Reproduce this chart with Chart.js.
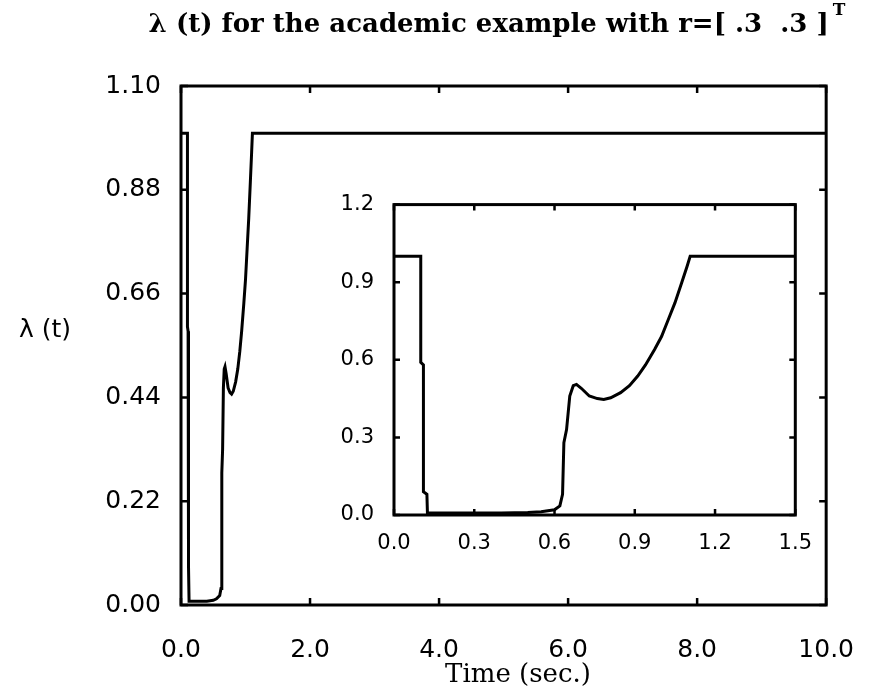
<!DOCTYPE html>
<html><head><meta charset="utf-8">
<script src="https://cdn.jsdelivr.net/npm/chart.js@4/dist/chart.umd.min.js"></script>
<style>
html,body{margin:0;padding:0;background:#fff;}
#wrap{position:relative;width:876px;height:694px;overflow:hidden;}
canvas{position:absolute;}
</style>
</head><body>
<div id="wrap">
<canvas id="main" width="876" height="694" style="left:0;top:0;width:876px;height:694px"></canvas>
<canvas id="inset" width="500" height="370" style="left:320px;top:180px;width:500px;height:370px"></canvas>
</div>
<script>
// Data
const timeSec = [0, 0.100, 0.100, 0.110, 0.110, 0.123, 0.125, 0.2, 0.3, 0.4, 0.5, 0.55, 0.60, 0.62, 0.63, 0.635, 0.645, 0.657, 0.67, 0.682, 0.70, 0.73, 0.76, 0.784, 0.81, 0.847, 0.88, 0.911, 0.94, 0.974, 1.00, 1.025, 1.05, 1.075, 1.095, 1.107, 1.5, 10];
const lambdaVal = [1, 1, 0.59, 0.58, 0.09, 0.08, 0.008, 0.008, 0.008, 0.008, 0.01, 0.013, 0.02, 0.035, 0.08, 0.28, 0.33, 0.46, 0.50, 0.505, 0.49, 0.46, 0.45, 0.447, 0.453, 0.473, 0.50, 0.537, 0.58, 0.64, 0.69, 0.755, 0.82, 0.897, 0.96, 1.0, 1.0, 1.0];
const mainXTicks = [0, 2, 4, 6, 8, 10];
const mainYTicks = [0, 0.22, 0.44, 0.66, 0.88, 1.10];
const insetXTicks = [0, 0.3, 0.6, 0.9, 1.2, 1.5];
const insetYTicks = [0, 0.3, 0.6, 0.9, 1.2];
const titleText = 'λ (t) for the academic example with r=[ .3  .3 ]';
const titleSup = 'T';
const yTitle = 'λ (t)';
const xTitle = 'Time (sec.)';

const points = timeSec.map((t, i) => ({x: t, y: lambdaVal[i]}));

function frameTicks(len, lw) {
  return {
    id: 'frameTicks',
    afterDatasetsDraw(chart) {
      const ctx = chart.ctx, a = chart.chartArea, xs = chart.scales.x, ys = chart.scales.y;
      ctx.save();
      ctx.strokeStyle = '#000';
      ctx.lineWidth = lw;
      ctx.strokeRect(a.left, a.top, a.right - a.left, a.bottom - a.top);
      ctx.lineWidth = 2.5;
      ctx.beginPath();
      xs.ticks.forEach(t => {
        const p = xs.getPixelForValue(t.value);
        ctx.moveTo(p, a.bottom); ctx.lineTo(p, a.bottom - len);
        ctx.moveTo(p, a.top); ctx.lineTo(p, a.top + len);
      });
      ys.ticks.forEach(t => {
        const p = ys.getPixelForValue(t.value);
        ctx.moveTo(a.left, p); ctx.lineTo(a.left + len, p);
        ctx.moveTo(a.right, p); ctx.lineTo(a.right - len, p);
      });
      ctx.stroke();
      ctx.restore();
    }
  };
}

const textPlugin = {
  id: 'texts',
  afterDraw(chart) {
    const ctx = chart.ctx, a = chart.chartArea;
    ctx.save();
    ctx.fillStyle = '#000';
    ctx.textBaseline = 'middle';
    const tFont = 'bold 26px "DejaVu Serif"', sFont = 'bold 17px "DejaVu Serif"';
    ctx.font = tFont;
    const w = ctx.measureText(titleText).width;
    ctx.font = sFont;
    const ws = ctx.measureText(titleSup).width;
    const cx = 497;
    const x0 = cx - (w + ws + 4) / 2;
    ctx.textAlign = 'left';
    ctx.font = tFont;
    ctx.fillText(titleText, x0, 25);
    ctx.font = sFont;
    ctx.fillText(titleSup, x0 + w + 4, 11);
    ctx.font = '25px "DejaVu Sans"';
    ctx.textAlign = 'center';
    ctx.fillText(yTitle, 45, 330);
    ctx.font = '26px "DejaVu Serif"';
    ctx.fillText(xTitle, 518, 675);
    ctx.restore();
  }
};

new Chart(document.getElementById('main'), {
  type: 'line',
  data: {datasets: [{data: points, borderColor: '#000', borderWidth: 3, pointRadius: 0, tension: 0, fill: false}]},
  options: {
    responsive: false, animation: false, devicePixelRatio: 1,
    layout: {padding: {left: 0, right: 35, top: 86, bottom: 0}},
    plugins: {legend: {display: false}, tooltip: {enabled: false}, title: {display: false}},
    scales: {
      x: {type: 'linear', min: 0, max: 10,
        afterBuildTicks: s => { s.ticks = mainXTicks.map(v => ({value: v})); },
        afterFit: s => { s.height = 89; },
        grid: {display: false}, border: {display: false},
        ticks: {color: '#000', font: {family: 'DejaVu Sans', size: 25}, padding: 22, maxRotation: 0, autoSkip: false,
          callback: v => Number(v).toFixed(1)}},
      y: {type: 'linear', min: 0, max: 1.1,
        afterBuildTicks: s => { s.ticks = mainYTicks.map(v => ({value: v})); },
        afterFit: s => { s.width = 181; },
        grid: {display: false}, border: {display: false},
        ticks: {color: '#000', font: {family: 'DejaVu Sans', size: 25}, padding: 12, autoSkip: false,
          callback: v => Number(v).toFixed(2)}}
    }
  },
  plugins: [frameTicks(7, 3), textPlugin]
});

new Chart(document.getElementById('inset'), {
  type: 'line',
  data: {datasets: [{data: points, borderColor: '#000', borderWidth: 3, pointRadius: 0, tension: 0, fill: false}]},
  options: {
    responsive: false, animation: false, devicePixelRatio: 1,
    layout: {padding: {left: 0, right: 23, top: 16, bottom: 0}},
    plugins: {legend: {display: false}, tooltip: {enabled: false}, title: {display: false}},
    scales: {
      x: {type: 'linear', min: 0, max: 1.5,
        afterBuildTicks: s => { s.ticks = insetXTicks.map(v => ({value: v})); },
        afterFit: s => { s.height = 35; },
        grid: {display: false}, border: {display: false},
        ticks: {color: '#000', font: {family: 'DejaVu Sans', size: 21}, padding: 8, maxRotation: 0, autoSkip: false,
          callback: v => Number(v).toFixed(1)}},
      y: {type: 'linear', min: 0, max: 1.2,
        afterBuildTicks: s => { s.ticks = insetYTicks.map(v => ({value: v})); },
        afterFit: s => { s.width = 74; },
        grid: {display: false}, border: {display: false},
        ticks: {color: '#000', font: {family: 'DejaVu Sans', size: 21}, padding: 12, autoSkip: false,
          callback: v => Number(v).toFixed(1)}}
    }
  },
  plugins: [frameTicks(6, 3)]
});
</script>
</body></html>
